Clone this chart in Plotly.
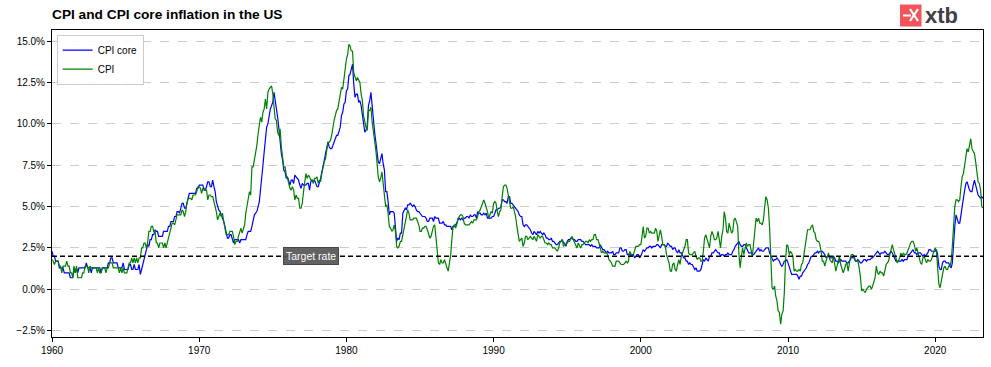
import pandas as pd
import plotly.graph_objects as go

# ---------------- DATA (monthly YoY %, Jan 1960 - Apr 2023) ----------------
cpi_core = [
    2.3, 2.0, 2.0, 1.7, 1.7, 1.7, 1.3, 1.3, 1.3, 1.3, 1.0, 1.0,  # 1960
    1.0, 1.0, 1.0, 0.7, 0.7, 0.7, 1.3, 1.0, 1.3, 1.0, 1.3, 1.3,  # 1961
    1.3, 1.3, 1.3, 1.3, 1.6, 1.3, 1.3, 1.3, 1.0, 1.3, 1.3, 1.3,  # 1962
    1.3, 1.3, 1.3, 1.3, 1.0, 1.3, 1.3, 1.3, 1.3, 1.3, 1.6, 1.6,  # 1963
    1.9, 1.9, 1.6, 1.6, 1.6, 1.6, 1.3, 1.3, 1.3, 1.3, 1.6, 1.2,  # 1964
    1.2, 1.2, 1.2, 1.5, 1.5, 1.2, 1.2, 1.5, 1.2, 1.2, 1.2, 1.5,  # 1965
    0.9, 1.2, 1.5, 1.8, 2.1, 2.4, 2.7, 2.6, 3.0, 3.0, 3.3, 3.3,  # 1966
    3.6, 3.5, 3.5, 3.2, 3.2, 3.2, 3.2, 3.5, 3.5, 3.5, 3.5, 3.8,  # 1967
    3.8, 4.1, 4.1, 4.1, 4.4, 4.4, 4.7, 4.7, 4.6, 4.9, 5.2, 5.2,  # 1968
    4.9, 4.9, 5.2, 5.5, 5.8, 5.8, 5.8, 5.8, 5.8, 5.8, 6.1, 6.1,  # 1969
    6.3, 6.3, 6.3, 6.3, 6.0, 6.0, 6.2, 6.5, 6.5, 6.2, 6.2, 6.6,  # 1970
    6.2, 5.9, 5.3, 5.0, 4.8, 4.7, 4.5, 4.4, 4.1, 3.8, 3.3, 3.1,  # 1971
    3.1, 3.3, 3.3, 3.0, 2.8, 3.0, 3.0, 3.0, 3.0, 2.8, 3.0, 3.0,  # 1972
    3.0, 3.0, 3.0, 3.3, 3.5, 3.5, 3.5, 3.8, 4.1, 4.5, 4.6, 4.7,  # 1973
    5.0, 5.3, 6.0, 6.6, 7.5, 8.3, 8.9, 9.8, 10.0, 10.5, 10.9, 11.1,  # 1974
    11.3, 11.9, 11.5, 11.0, 10.4, 9.7, 8.9, 8.2, 7.8, 7.2, 7.1, 6.7,  # 1975
    6.8, 6.5, 6.3, 6.6, 6.6, 6.4, 6.9, 6.8, 6.7, 6.6, 6.3, 6.1,  # 1976
    6.4, 6.3, 6.3, 6.3, 6.4, 6.4, 6.0, 6.5, 6.6, 6.5, 6.6, 6.4,  # 1977
    6.2, 6.2, 6.4, 6.7, 7.1, 7.6, 7.8, 8.2, 8.6, 8.9, 8.6, 8.5,  # 1978
    8.5, 8.7, 8.9, 9.1, 9.3, 9.3, 9.5, 9.8, 10.5, 10.7, 11.2, 11.3,  # 1979
    12.0, 12.1, 12.9, 13.0, 13.3, 13.6, 12.4, 11.6, 11.8, 11.8, 11.3, 11.4,  # 1980
    11.1, 10.5, 10.2, 9.5, 9.6, 9.9, 11.1, 11.4, 11.9, 11.0, 10.2, 9.5,  # 1981
    8.9, 8.4, 7.7, 7.6, 7.9, 8.2, 7.6, 7.2, 5.9, 5.9, 5.3, 4.5,  # 1982
    4.7, 4.7, 4.7, 4.6, 3.7, 2.9, 3.1, 3.0, 3.4, 3.4, 4.6, 4.8,  # 1983
    4.9, 4.8, 5.1, 5.1, 5.2, 5.1, 5.0, 5.1, 5.0, 4.8, 4.7, 4.7,  # 1984
    4.6, 4.5, 4.4, 4.4, 4.4, 4.3, 4.1, 4.1, 4.3, 4.3, 4.3, 4.1,  # 1985
    4.4, 4.3, 4.3, 4.3, 4.0, 4.0, 4.0, 4.1, 3.9, 3.9, 3.8, 3.8,  # 1986
    3.8, 3.8, 3.6, 3.8, 3.8, 3.9, 4.0, 4.2, 4.3, 4.2, 4.3, 4.2,  # 1987
    4.3, 4.3, 4.4, 4.4, 4.3, 4.5, 4.4, 4.4, 4.5, 4.5, 4.3, 4.7,  # 1988
    4.6, 4.6, 4.5, 4.5, 4.6, 4.5, 4.6, 4.3, 4.3, 4.3, 4.3, 4.4,  # 1989
    4.4, 4.6, 4.8, 4.8, 4.9, 4.9, 5.0, 5.4, 5.4, 5.3, 5.3, 5.2,  # 1990
    5.6, 5.6, 5.2, 5.2, 5.1, 5.0, 4.9, 4.8, 4.7, 4.5, 4.4, 4.4,  # 1991
    3.9, 3.8, 3.9, 3.9, 3.8, 3.7, 3.6, 3.4, 3.3, 3.5, 3.4, 3.3,  # 1992
    3.5, 3.4, 3.5, 3.4, 3.3, 3.4, 3.3, 3.1, 3.1, 3.0, 3.0, 3.1,  # 1993
    2.9, 2.9, 2.8, 2.7, 2.7, 2.8, 2.9, 2.9, 3.0, 2.8, 2.8, 2.6,  # 1994
    2.9, 3.0, 3.0, 3.1, 3.1, 3.0, 3.0, 2.9, 2.9, 3.0, 3.0, 3.0,  # 1995
    2.9, 2.9, 2.8, 2.7, 2.7, 2.7, 2.7, 2.6, 2.7, 2.6, 2.6, 2.6,  # 1996
    2.5, 2.5, 2.5, 2.7, 2.5, 2.4, 2.4, 2.3, 2.2, 2.3, 2.2, 2.2,  # 1997
    2.2, 2.3, 2.1, 2.1, 2.2, 2.2, 2.2, 2.5, 2.5, 2.3, 2.3, 2.4,  # 1998
    2.4, 2.1, 2.1, 2.2, 2.0, 2.1, 2.1, 1.9, 2.0, 2.1, 2.1, 1.9,  # 1999
    2.0, 2.2, 2.4, 2.3, 2.4, 2.5, 2.5, 2.6, 2.6, 2.5, 2.6, 2.6,  # 2000
    2.6, 2.7, 2.7, 2.6, 2.5, 2.7, 2.7, 2.7, 2.6, 2.6, 2.8, 2.7,  # 2001
    2.6, 2.6, 2.4, 2.5, 2.5, 2.3, 2.2, 2.4, 2.2, 2.2, 2.0, 1.9,  # 2002
    1.9, 1.7, 1.7, 1.5, 1.6, 1.5, 1.5, 1.3, 1.2, 1.3, 1.1, 1.1,  # 2003
    1.1, 1.2, 1.6, 1.8, 1.7, 1.9, 1.8, 1.7, 2.0, 2.0, 2.2, 2.2,  # 2004
    2.3, 2.4, 2.3, 2.2, 2.2, 2.0, 2.1, 2.1, 2.0, 2.1, 2.1, 2.2,  # 2005
    2.1, 2.1, 2.1, 2.3, 2.4, 2.6, 2.7, 2.8, 2.9, 2.7, 2.6, 2.6,  # 2006
    2.7, 2.7, 2.5, 2.3, 2.2, 2.2, 2.2, 2.1, 2.1, 2.2, 2.3, 2.4,  # 2007
    2.5, 2.3, 2.4, 2.3, 2.3, 2.4, 2.5, 2.5, 2.5, 2.2, 2.0, 1.8,  # 2008
    1.7, 1.8, 1.8, 1.9, 1.8, 1.7, 1.5, 1.4, 1.5, 1.7, 1.7, 1.8,  # 2009
    1.6, 1.3, 1.1, 0.9, 0.9, 0.9, 0.9, 0.9, 0.8, 0.6, 0.8, 0.8,  # 2010
    1.0, 1.1, 1.2, 1.3, 1.5, 1.6, 1.8, 2.0, 2.0, 2.1, 2.2, 2.2,  # 2011
    2.3, 2.2, 2.3, 2.3, 2.3, 2.2, 2.1, 1.9, 2.0, 2.0, 1.9, 1.9,  # 2012
    1.9, 2.0, 1.9, 1.7, 1.7, 1.6, 1.7, 1.8, 1.7, 1.7, 1.7, 1.7,  # 2013
    1.6, 1.6, 1.7, 1.8, 2.0, 1.9, 1.9, 1.7, 1.7, 1.8, 1.7, 1.6,  # 2014
    1.6, 1.7, 1.8, 1.8, 1.7, 1.8, 1.8, 1.8, 1.9, 1.9, 2.0, 2.1,  # 2015
    2.2, 2.3, 2.2, 2.1, 2.2, 2.2, 2.2, 2.3, 2.2, 2.1, 2.1, 2.2,  # 2016
    2.3, 2.2, 2.0, 1.9, 1.7, 1.7, 1.7, 1.7, 1.7, 1.8, 1.7, 1.8,  # 2017
    1.8, 1.8, 2.1, 2.1, 2.2, 2.3, 2.4, 2.2, 2.2, 2.1, 2.2, 2.2,  # 2018
    2.2, 2.1, 2.0, 2.1, 2.0, 2.1, 2.2, 2.4, 2.4, 2.3, 2.3, 2.3,  # 2019
    2.3, 2.4, 2.1, 1.4, 1.2, 1.2, 1.6, 1.7, 1.7, 1.6, 1.6, 1.6,  # 2020
    1.4, 1.3, 1.6, 3.0, 3.8, 4.5, 4.3, 4.0, 4.0, 4.6, 4.9, 5.5,  # 2021
    6.0, 6.4, 6.5, 6.2, 6.0, 5.9, 5.9, 6.3, 6.6, 6.3, 6.0, 5.7,  # 2022
    5.6, 5.5, 5.6, 5.5,                                          # 2023
]

cpi = [
    1.8, 1.7, 1.5, 1.7, 1.7, 1.7, 1.4, 1.4, 1.0, 1.4, 1.4, 1.4,  # 1960
    1.7, 1.4, 1.4, 1.0, 1.0, 0.7, 1.4, 1.0, 1.4, 0.7, 0.7, 0.7,  # 1961
    0.7, 1.0, 1.0, 1.4, 1.4, 1.4, 1.0, 1.4, 1.3, 1.3, 1.3, 1.3,  # 1962
    1.3, 1.0, 1.3, 1.0, 1.0, 1.3, 1.3, 1.3, 1.0, 1.3, 1.3, 1.6,  # 1963
    1.6, 1.6, 1.3, 1.3, 1.3, 1.3, 1.3, 1.0, 1.3, 1.0, 1.3, 1.0,  # 1964
    1.0, 1.0, 1.3, 1.6, 1.6, 1.9, 1.6, 1.9, 1.6, 1.9, 1.6, 1.9,  # 1965
    1.9, 2.5, 2.5, 2.8, 2.8, 2.5, 2.8, 3.5, 3.5, 3.8, 3.8, 3.5,  # 1966
    3.5, 2.8, 2.8, 2.5, 2.8, 2.8, 2.8, 2.5, 2.8, 2.5, 2.8, 3.1,  # 1967
    3.4, 3.7, 4.0, 4.0, 3.9, 4.2, 4.5, 4.5, 4.5, 4.5, 4.8, 4.7,  # 1968
    4.4, 4.7, 5.2, 5.5, 5.5, 5.5, 5.4, 5.7, 5.7, 5.7, 5.9, 6.2,  # 1969
    6.2, 6.1, 5.8, 6.1, 6.1, 6.0, 6.0, 5.4, 5.7, 5.7, 5.6, 5.6,  # 1970
    5.3, 5.0, 4.7, 4.2, 4.4, 4.6, 4.4, 4.6, 4.1, 3.8, 3.3, 3.3,  # 1971
    3.3, 3.5, 3.5, 3.5, 3.2, 2.7, 2.9, 2.9, 3.2, 3.4, 3.7, 3.4,  # 1972
    3.6, 3.9, 4.6, 5.1, 5.5, 5.9, 5.7, 7.4, 7.4, 7.8, 8.3, 8.7,  # 1973
    9.4, 10.0, 10.4, 10.1, 10.7, 10.9, 11.5, 10.9, 11.9, 12.1, 12.2, 12.3,  # 1974
    11.8, 11.2, 10.3, 10.2, 9.5, 9.3, 9.7, 8.6, 7.9, 7.4, 7.4, 6.9,  # 1975
    6.7, 6.3, 6.1, 6.0, 6.2, 6.0, 5.4, 5.7, 5.5, 5.5, 4.9, 4.9,  # 1976
    5.2, 5.9, 6.4, 7.0, 6.7, 6.9, 6.8, 6.6, 6.6, 6.4, 6.7, 6.7,  # 1977
    6.8, 6.4, 6.6, 6.5, 7.0, 7.4, 7.7, 7.9, 8.3, 8.9, 8.9, 9.0,  # 1978
    9.3, 9.9, 10.2, 10.5, 10.8, 10.9, 11.3, 11.8, 12.2, 12.1, 12.6, 13.3,  # 1979
    13.9, 14.2, 14.8, 14.7, 14.4, 14.4, 13.1, 12.9, 12.6, 12.8, 12.6, 12.5,  # 1980
    11.8, 11.4, 10.5, 10.0, 9.8, 9.6, 10.8, 10.8, 11.0, 10.1, 9.6, 8.9,  # 1981
    8.4, 7.6, 6.8, 6.5, 6.7, 7.1, 6.4, 5.9, 5.0, 5.1, 4.6, 3.8,  # 1982
    3.7, 3.5, 3.6, 3.9, 3.5, 2.6, 2.5, 2.6, 2.9, 2.9, 3.3, 3.8,  # 1983
    4.2, 4.6, 4.8, 4.6, 4.2, 4.2, 4.2, 4.3, 4.3, 4.3, 4.1, 3.9,  # 1984
    3.5, 3.5, 3.7, 3.7, 3.8, 3.8, 3.6, 3.3, 3.1, 3.2, 3.5, 3.8,  # 1985
    3.9, 3.1, 2.2, 1.6, 1.5, 1.8, 1.6, 1.6, 1.8, 1.5, 1.3, 1.1,  # 1986
    1.5, 2.1, 3.0, 3.8, 3.9, 3.7, 3.9, 4.3, 4.4, 4.5, 4.5, 4.4,  # 1987
    4.0, 3.9, 3.9, 3.9, 3.9, 4.0, 4.1, 4.0, 4.2, 4.2, 4.2, 4.4,  # 1988
    4.7, 4.8, 5.0, 5.1, 5.4, 5.2, 5.0, 4.7, 4.3, 4.5, 4.7, 4.6,  # 1989
    5.2, 5.3, 5.2, 4.7, 4.4, 4.7, 4.8, 5.6, 6.2, 6.3, 6.3, 6.1,  # 1990
    5.7, 5.3, 4.9, 4.9, 5.0, 4.7, 4.4, 3.8, 3.4, 2.9, 3.0, 3.1,  # 1991
    2.6, 2.8, 3.2, 3.2, 3.0, 3.1, 3.2, 3.1, 3.0, 3.2, 3.0, 2.9,  # 1992
    3.3, 3.2, 3.1, 3.2, 3.2, 3.0, 2.8, 2.8, 2.7, 2.8, 2.7, 2.7,  # 1993
    2.5, 2.5, 2.5, 2.4, 2.3, 2.5, 2.8, 2.9, 3.0, 2.6, 2.7, 2.7,  # 1994
    2.8, 2.9, 2.9, 3.1, 3.2, 3.0, 2.8, 2.6, 2.5, 2.8, 2.6, 2.5,  # 1995
    2.7, 2.7, 2.8, 2.9, 2.9, 2.8, 3.0, 2.9, 3.0, 3.0, 3.3, 3.3,  # 1996
    3.0, 3.0, 2.8, 2.5, 2.2, 2.3, 2.2, 2.2, 2.2, 2.1, 1.8, 1.7,  # 1997
    1.6, 1.4, 1.4, 1.4, 1.7, 1.7, 1.7, 1.6, 1.5, 1.5, 1.5, 1.6,  # 1998
    1.7, 1.6, 1.7, 2.3, 2.1, 2.0, 2.1, 2.3, 2.6, 2.6, 2.6, 2.7,  # 1999
    2.7, 3.2, 3.8, 3.1, 3.2, 3.7, 3.7, 3.4, 3.5, 3.4, 3.4, 3.4,  # 2000
    3.7, 3.5, 2.9, 3.3, 3.6, 3.2, 2.7, 2.7, 2.6, 2.1, 1.9, 1.6,  # 2001
    1.1, 1.1, 1.5, 1.6, 1.2, 1.1, 1.5, 1.8, 1.5, 2.0, 2.2, 2.4,  # 2002
    2.6, 3.0, 3.0, 2.2, 2.1, 2.1, 2.1, 2.2, 2.3, 2.0, 1.8, 1.9,  # 2003
    1.9, 1.7, 1.7, 2.3, 3.1, 3.3, 3.0, 2.7, 2.5, 3.2, 3.5, 3.3,  # 2004
    3.0, 3.0, 3.1, 3.5, 2.8, 2.5, 3.2, 3.6, 4.7, 4.3, 3.5, 3.4,  # 2005
    4.0, 3.6, 3.4, 3.5, 4.2, 4.3, 4.1, 3.8, 2.1, 1.3, 2.0, 2.5,  # 2006
    2.1, 2.4, 2.8, 2.6, 2.7, 2.7, 2.4, 2.0, 2.8, 3.5, 4.3, 4.1,  # 2007
    4.3, 4.0, 4.0, 3.9, 4.2, 5.0, 5.6, 5.4, 4.9, 3.7, 1.1, 0.1,  # 2008
    0.0, 0.2, -0.4, -0.7, -1.3, -1.4, -2.1, -1.5, -1.3, -0.2, 1.8, 2.7,  # 2009
    2.6, 2.1, 2.3, 2.2, 2.0, 1.1, 1.2, 1.1, 1.1, 1.2, 1.1, 1.5,  # 2010
    1.6, 2.1, 2.7, 3.2, 3.6, 3.6, 3.6, 3.8, 3.9, 3.5, 3.4, 3.0,  # 2011
    2.9, 2.9, 2.7, 2.3, 1.7, 1.7, 1.4, 1.7, 2.0, 2.2, 1.8, 1.7,  # 2012
    1.6, 2.0, 1.5, 1.1, 1.4, 1.8, 2.0, 1.5, 1.2, 1.0, 1.2, 1.5,  # 2013
    1.6, 1.1, 1.5, 2.0, 2.1, 2.1, 2.0, 1.7, 1.7, 1.7, 1.3, 0.8,  # 2014
    -0.1, 0.0, -0.1, -0.2, 0.0, 0.1, 0.2, 0.2, 0.0, 0.2, 0.5, 0.7,  # 2015
    1.4, 1.0, 0.9, 1.1, 1.0, 1.0, 0.8, 1.1, 1.5, 1.6, 1.7, 2.1,  # 2016
    2.5, 2.7, 2.4, 2.2, 1.9, 1.6, 1.7, 1.9, 2.2, 2.0, 2.2, 2.1,  # 2017
    2.1, 2.2, 2.4, 2.5, 2.8, 2.9, 2.9, 2.7, 2.3, 2.5, 2.2, 1.9,  # 2018
    1.6, 1.5, 1.9, 2.0, 1.8, 1.6, 1.8, 1.7, 1.7, 1.8, 2.1, 2.3,  # 2019
    2.5, 2.3, 1.5, 0.3, 0.1, 0.6, 1.0, 1.3, 1.4, 1.2, 1.2, 1.4,  # 2020
    1.4, 1.7, 2.6, 4.2, 5.0, 5.4, 5.4, 5.3, 5.4, 6.2, 6.8, 7.0,  # 2021
    7.5, 7.9, 8.5, 8.3, 8.6, 9.1, 8.5, 8.3, 8.2, 7.7, 7.1, 6.5,  # 2022
    6.4, 6.0, 5.0, 4.9,                                          # 2023
]

target_rate = 2.0
start_date = "1960-01-01"
y_ticks = [-2.5, 0.0, 2.5, 5.0, 7.5, 10.0, 12.5, 15.0]

assert len(cpi) == len(cpi_core)
dates = pd.date_range(start_date, periods=len(cpi), freq="MS")

# ---------------- FIGURE ----------------
W, H = 991, 367
ML, MR, MT, MB = 52, 8, 30, 30
FONT = "Liberation Sans, Arial, Helvetica, sans-serif"

fig = go.Figure()
fig.add_trace(go.Scatter(x=dates, y=cpi_core, mode="lines", name="CPI core",
                         line=dict(color="#0000ff", width=1.2)))
fig.add_trace(go.Scatter(x=dates, y=cpi, mode="lines", name="CPI",
                         line=dict(color="#008000", width=1.2)))

# target rate line
fig.add_shape(type="line", xref="paper", yref="y", x0=0, x1=1,
              y0=target_rate, y1=target_rate,
              line=dict(color="black", width=1.3, dash="5px,3px"), layer="above")
fig.add_annotation(x=pd.Timestamp("1977-08-01"), y=target_rate, text="Target rate",
                   showarrow=False, font=dict(color="white", size=10.5, family=FONT),
                   bgcolor="rgba(85,85,85,0.92)", bordercolor="rgba(60,60,60,0.9)",
                   borderwidth=1, borderpad=2, xanchor="center", yanchor="middle")

# logo (decorative) in pixel coordinates converted to paper
pw = W - ML - MR
ph = H - MT - MB
def px(x, y):
    return (x - ML) / pw, (H - MB - y) / ph

x0, y0 = px(900, 26.5)
x1, y1 = px(921.5, 4.5)
fig.add_shape(type="rect", xref="paper", yref="paper", x0=x0, y0=y0, x1=x1, y1=y1,
              fillcolor="#f2545b", line=dict(width=0), layer="above")
a, b = px(903, 15.5); c, d = px(911, 15.5)
fig.add_shape(type="line", xref="paper", yref="paper", x0=a, y0=b, x1=c, y1=d,
              line=dict(color="white", width=2))
for (p, q) in [((910, 9), (918, 21)), ((918, 9), (910, 21))]:
    a, b = px(*p); c, d = px(*q)
    fig.add_shape(type="line", xref="paper", yref="paper", x0=a, y0=b, x1=c, y1=d,
                  line=dict(color="white", width=2.2))
lx, ly = px(923, 15.5)
fig.add_annotation(xref="paper", yref="paper", x=lx, y=ly, text="<b>xtb</b>",
                   showarrow=False, xanchor="left", yanchor="middle",
                   font=dict(color="#3f3f46", size=22, family=FONT))

fig.update_layout(
    width=W, height=H, autosize=False,
    margin=dict(l=ML, r=MR, t=MT, b=MB, pad=0),
    paper_bgcolor="white", plot_bgcolor="white",
    font=dict(family=FONT, size=10, color="black"),
    title=dict(text="<b>CPI and CPI core inflation in the US</b>",
               x=ML / W, xanchor="left", xref="container",
               y=1 - 14.5 / H, yanchor="middle", yref="container",
               font=dict(size=13.7, color="black", family=FONT)),
    showlegend=True,
    legend=dict(x=0.005, y=0.985, xanchor="left", yanchor="top",
                bgcolor="rgba(255,255,255,0.85)", bordercolor="#cccccc", borderwidth=1,
                font=dict(size=10, family=FONT), itemwidth=30, tracegroupgap=0),
    xaxis=dict(range=[pd.Timestamp("1960-01-01"), pd.Timestamp("2023-04-01")],
               showgrid=False, zeroline=False,
               showline=True, linecolor="black", linewidth=1, mirror=True,
               ticks="outside", ticklen=4, tickcolor="black",
               tick0="1960-01-01", dtick="M120", tickformat="%Y",
               tickfont=dict(size=10)),
    yaxis=dict(range=[-2.88, 15.67], tickvals=y_ticks,
               ticktext=[("\u2212" if v < 0 else "") + f"{abs(v):.1f}%" for v in y_ticks],
               showgrid=True, gridcolor="#cccccc", griddash="dash", gridwidth=1,
               zeroline=False,
               showline=True, linecolor="black", linewidth=1, mirror=True,
               ticks="outside", ticklen=4, tickcolor="black",
               tickfont=dict(size=10)),
)

fig.write_html(
    "out.html",
    config={"displayModeBar": False},
    post_script="document.body.style.margin='0';document.body.style.overflow='hidden';",
)
